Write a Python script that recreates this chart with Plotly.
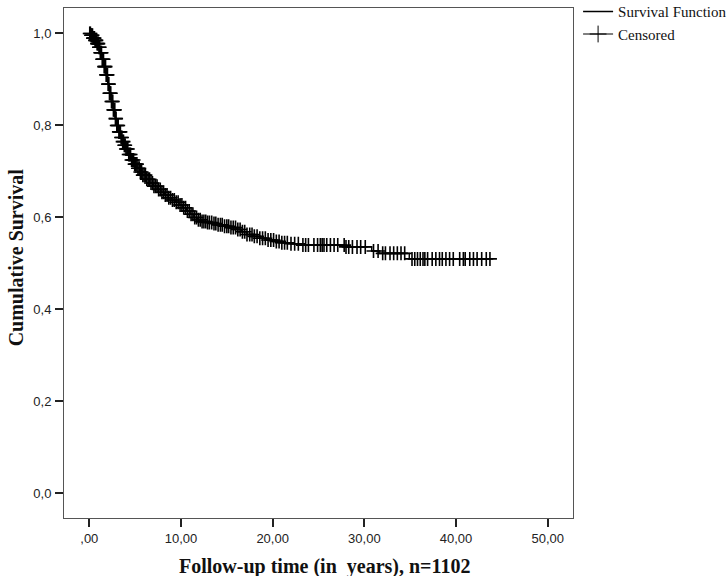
import numpy as np
import plotly.graph_objects as go

# Kaplan-Meier step points (time in years, cumulative survival)
step_time = [0, 0.2, 0.4, 0.6, 0.8, 1.0, 1.2, 1.4, 1.6, 1.8, 2.0, 2.2, 2.4, 2.6, 2.8,
             3.0, 3.2, 3.4, 3.6, 3.8, 4.0, 4.3, 4.6, 4.9, 5.2, 5.5, 5.8, 6.2, 6.6, 7.0,
             7.4, 7.8, 8.2, 8.6, 9.0, 9.4, 9.8, 10.2, 10.6, 11.0, 11.4, 11.8, 12.3,
             12.8, 13.4, 14.0, 14.6, 15.3, 16.0, 16.6, 17.2, 17.9, 18.6, 19.3, 20.2,
             21.0, 22.0, 23.2, 28.0, 30.8, 31.6, 34.9, 43.7]
step_surv = [1.0, 0.996, 0.99, 0.985, 0.978, 0.97, 0.958, 0.944, 0.928, 0.91, 0.89,
             0.87, 0.852, 0.834, 0.815, 0.800, 0.786, 0.774, 0.765, 0.757, 0.749,
             0.737, 0.725, 0.716, 0.707, 0.699, 0.692, 0.683, 0.675, 0.668, 0.661,
             0.655, 0.649, 0.643, 0.638, 0.633, 0.627, 0.621, 0.614, 0.607, 0.600,
             0.595, 0.591, 0.589, 0.587, 0.584, 0.581, 0.578, 0.574, 0.569, 0.563,
             0.559, 0.555, 0.551, 0.548, 0.545, 0.543, 0.540, 0.536, 0.527, 0.522,
             0.510, 0.510]

# Censoring times (years)
censor_time = [
    0.05, 0.12, 0.2, 0.27, 0.35, 0.41, 0.48, 0.56, 0.63, 0.7, 0.77, 0.85, 0.92, 0.98,
    1.06, 1.13, 1.2, 1.27, 1.33, 1.41, 1.48, 1.55, 1.62, 1.7, 1.77, 1.84, 1.91, 1.98,
    2.05, 2.13, 2.2, 2.27, 2.34, 2.42, 2.49, 2.56, 2.63, 2.7, 2.78, 2.85, 2.92, 3.0,
    3.08, 3.15, 3.23, 3.31, 3.39, 3.47, 3.56, 3.64, 3.73, 3.82, 3.91, 4.0, 4.1, 4.2,
    4.3, 4.4, 4.5, 4.61, 4.72, 4.83, 4.95, 5.07, 5.19, 5.31, 5.44, 5.57, 5.7, 5.84,
    5.98, 6.12, 6.27, 6.42, 6.57, 6.73, 6.89, 7.05, 7.22, 7.39, 7.56, 7.74, 7.92, 8.1,
    8.29, 8.48, 8.67, 8.87, 9.07, 9.27, 9.48, 9.69, 9.9, 10.1, 10.3, 10.5, 10.7, 10.9,
    11.1, 11.3, 11.5, 11.7, 11.9, 12.1, 12.3, 12.5, 12.7, 12.9, 13.1, 13.35, 13.6,
    13.8, 14.05, 14.3, 14.5, 14.75, 15.0, 15.2, 15.45, 15.7, 15.95, 16.2, 16.45, 16.7,
    16.95, 17.2, 17.5, 17.75, 18.0, 18.3, 18.6, 18.9, 19.2, 19.5, 19.8, 20.1, 20.4,
    20.7, 21.0, 21.3, 21.6, 22.0, 22.4, 22.8, 23.3, 23.6, 23.9, 24.5, 24.9, 25.2, 25.4,
    25.6, 25.9, 26.3, 26.7, 27.1, 27.8, 28.0, 28.3, 28.7, 29.2, 29.6, 30.1, 31.0, 31.5,
    32.0, 32.3, 32.8, 33.2, 33.6, 34.0, 34.4, 35.2, 35.5, 35.8, 36.1, 36.4, 36.6, 36.9,
    37.4, 37.8, 38.2, 38.5, 38.9, 39.3, 39.7, 40.4, 40.8, 41.0, 41.5, 41.9, 42.3, 42.8,
    43.3, 43.7]

x_tickvals = [0, 10, 20, 30, 40, 50]
x_ticktext = [",00", "10,00", "20,00", "30,00", "40,00", "50,00"]
y_tickvals = [0.0, 0.2, 0.4, 0.6, 0.8, 1.0]
y_ticktext = ["0,0", "0,2", "0,4", "0,6", "0,8", "1,0"]

x_title = "Follow-up time (in\u00a0 years), n=1102"
y_title = "Cumulative Survival"

# survival value at each censoring time (step function lookup)
st = np.array(step_time)
ss = np.array(step_surv)
idx = np.searchsorted(st, np.array(censor_time), side="right") - 1
censor_surv = ss[idx]

fig = go.Figure()
fig.add_trace(go.Scatter(
    x=step_time, y=step_surv, mode="lines", line_shape="hv",
    line=dict(color="black", width=1.4), name="Survival Function"))
fig.add_trace(go.Scatter(
    x=censor_time, y=censor_surv, mode="markers", name="Censored", showlegend=False,
    marker=dict(symbol="cross-thin", size=10, line=dict(color="black", width=1.6))))
# legend sample for the censored marks (line with a cross)
fig.add_trace(go.Scatter(
    x=[None], y=[None], mode="lines+markers", name="Censored",
    line=dict(color="black", width=1),
    marker=dict(symbol="cross-thin", size=12, line=dict(color="black", width=1))))

serif = "Liberation Serif, Times New Roman, serif"
axis_common = dict(showline=True, linecolor="#555", linewidth=1, mirror=True,
                   showgrid=False, zeroline=False, ticks="outside", ticklen=8,
                   tickwidth=2, tickcolor="#222", automargin=False,
                   tickfont=dict(family="Liberation Sans, Arial", size=13, color="#222"))

fig.update_layout(
    width=728, height=576,
    margin=dict(l=64, r=155, t=8, b=58, autoexpand=False),
    paper_bgcolor="white", plot_bgcolor="white",
    showlegend=True,
    legend=dict(x=1.01, y=1.025, xanchor="left", yanchor="top",
                font=dict(family=serif, size=15, color="#111"),
                itemwidth=30, bgcolor="rgba(0,0,0,0)", tracegroupgap=0),
    xaxis=dict(range=[-2.76, 52.76], tickvals=x_tickvals, ticktext=x_ticktext,
               ticklabelstandoff=0, **axis_common),
    yaxis=dict(range=[-0.0533, 1.0554], tickvals=y_tickvals, ticktext=y_ticktext,
               ticklabelstandoff=1, **axis_common),
    annotations=[
        dict(text="<b>" + x_title + "</b>", xref="paper", yref="paper",
             x=0.512, y=-0.096, xanchor="center", yanchor="middle", showarrow=False,
             font=dict(family=serif, size=20, color="#111")),
        dict(text="<b>" + y_title + "</b>", xref="paper", yref="paper",
             x=-0.0953, y=0.512, xanchor="center", yanchor="middle", showarrow=False,
             textangle=-90, font=dict(family=serif, size=20, color="#111")),
    ],
)

fig.write_html("out.html",
               config={"displayModeBar": False},
               post_script="document.body.style.margin='0';document.body.style.padding='0';")
